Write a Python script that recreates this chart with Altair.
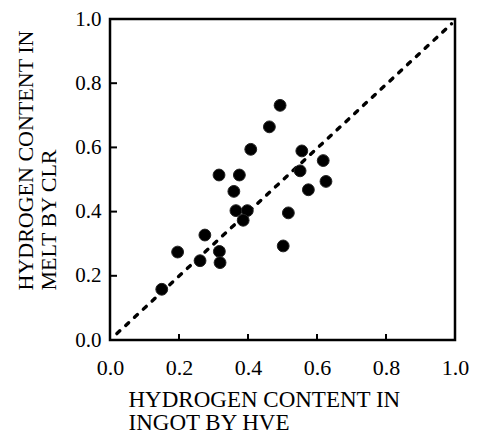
import altair as alt
import pandas as pd

# Data
hve_ingot = [0.493, 0.462, 0.408, 0.556, 0.618, 0.551, 0.316, 0.375, 0.626, 0.575, 0.359,
             0.365, 0.398, 0.386, 0.517, 0.275, 0.196, 0.317, 0.261, 0.319, 0.502, 0.150]
clr_melt = [0.731, 0.664, 0.594, 0.589, 0.559, 0.527, 0.514, 0.514, 0.494, 0.468, 0.463,
            0.403, 0.403, 0.373, 0.396, 0.327, 0.274, 0.276, 0.247, 0.241, 0.293, 0.158]
diag_x = [0.02, 0.99]
diag_y = [0.02, 0.985]
tick_values = [0.0, 0.2, 0.4, 0.6, 0.8, 1.0]
inner_ticks = [0.2, 0.4, 0.6, 0.8]

FONT = "Liberation Serif"
W, H = 345, 321

pts = pd.DataFrame({"x": hve_ingot, "y": clr_melt})
diag = pd.DataFrame({"x": diag_x, "y": diag_y})
ticks = pd.DataFrame({"t": inner_ticks})

xs = alt.Scale(domain=[0, 1], nice=False, zero=False)
ys = alt.Scale(domain=[0, 1], nice=False, zero=False)

xaxis = alt.Axis(values=tick_values, format=".1f", ticks=False, domain=False, grid=False,
                 labelFont=FONT, labelFontSize=22, labelColor="black", labelPadding=17,
                 title=["HYDROGEN CONTENT IN", "INGOT BY HVE"], titleFont=FONT,
                 titleFontSize=23, titleFontWeight="normal", titleColor="black",
                 titleAnchor="start", titleAlign="left", titleBaseline="alphabetic",
                 titleX=18, titleY=66, titleLineHeight=23.5, labelFlush=False)
yaxis = alt.Axis(values=tick_values, format=".1f", ticks=False, domain=False, grid=False,
                 labelFont=FONT, labelFontSize=21, labelColor="black", labelPadding=9,
                 title=["HYDROGEN CONTENT IN", "MELT BY CLR"], titleFont=FONT,
                 titleFontSize=22, titleFontWeight="normal", titleColor="black",
                 titleAnchor="start", titleAlign="left", titleBaseline="alphabetic",
                 titleX=-78, titleY=271, titleLineHeight=23, labelFlush=False)

points = alt.Chart(pts).mark_circle(size=140, color="black", opacity=1,
                                    stroke="#222222", strokeWidth=1).encode(
    x=alt.X("x:Q", scale=xs, axis=xaxis),
    y=alt.Y("y:Q", scale=ys, axis=yaxis),
)

line = alt.Chart(diag).mark_line(color="black", strokeWidth=3.4, strokeDash=[4, 8],
                                 strokeCap="round").encode(
    x=alt.X("x:Q", scale=xs),
    y=alt.Y("y:Q", scale=ys),
)

xt = alt.Chart(ticks).mark_rule(color="black", strokeWidth=2).encode(
    x=alt.X("t:Q", scale=xs), y=alt.value(H), y2=alt.value(H - 6))
yt = alt.Chart(ticks).mark_rule(color="black", strokeWidth=2).encode(
    y=alt.Y("t:Q", scale=ys), x=alt.value(0), x2=alt.value(7))

chart = alt.layer(line, points, xt, yt).properties(
    width=W, height=H,
    autosize=alt.AutoSizeParams(type="none"),
    padding={"left": 102, "top": 11, "right": 16, "bottom": 95},
    background="white",
).configure_view(stroke="black", strokeWidth=2.5)

chart.save("out.html", embed_options={"renderer": "svg", "actions": False})
